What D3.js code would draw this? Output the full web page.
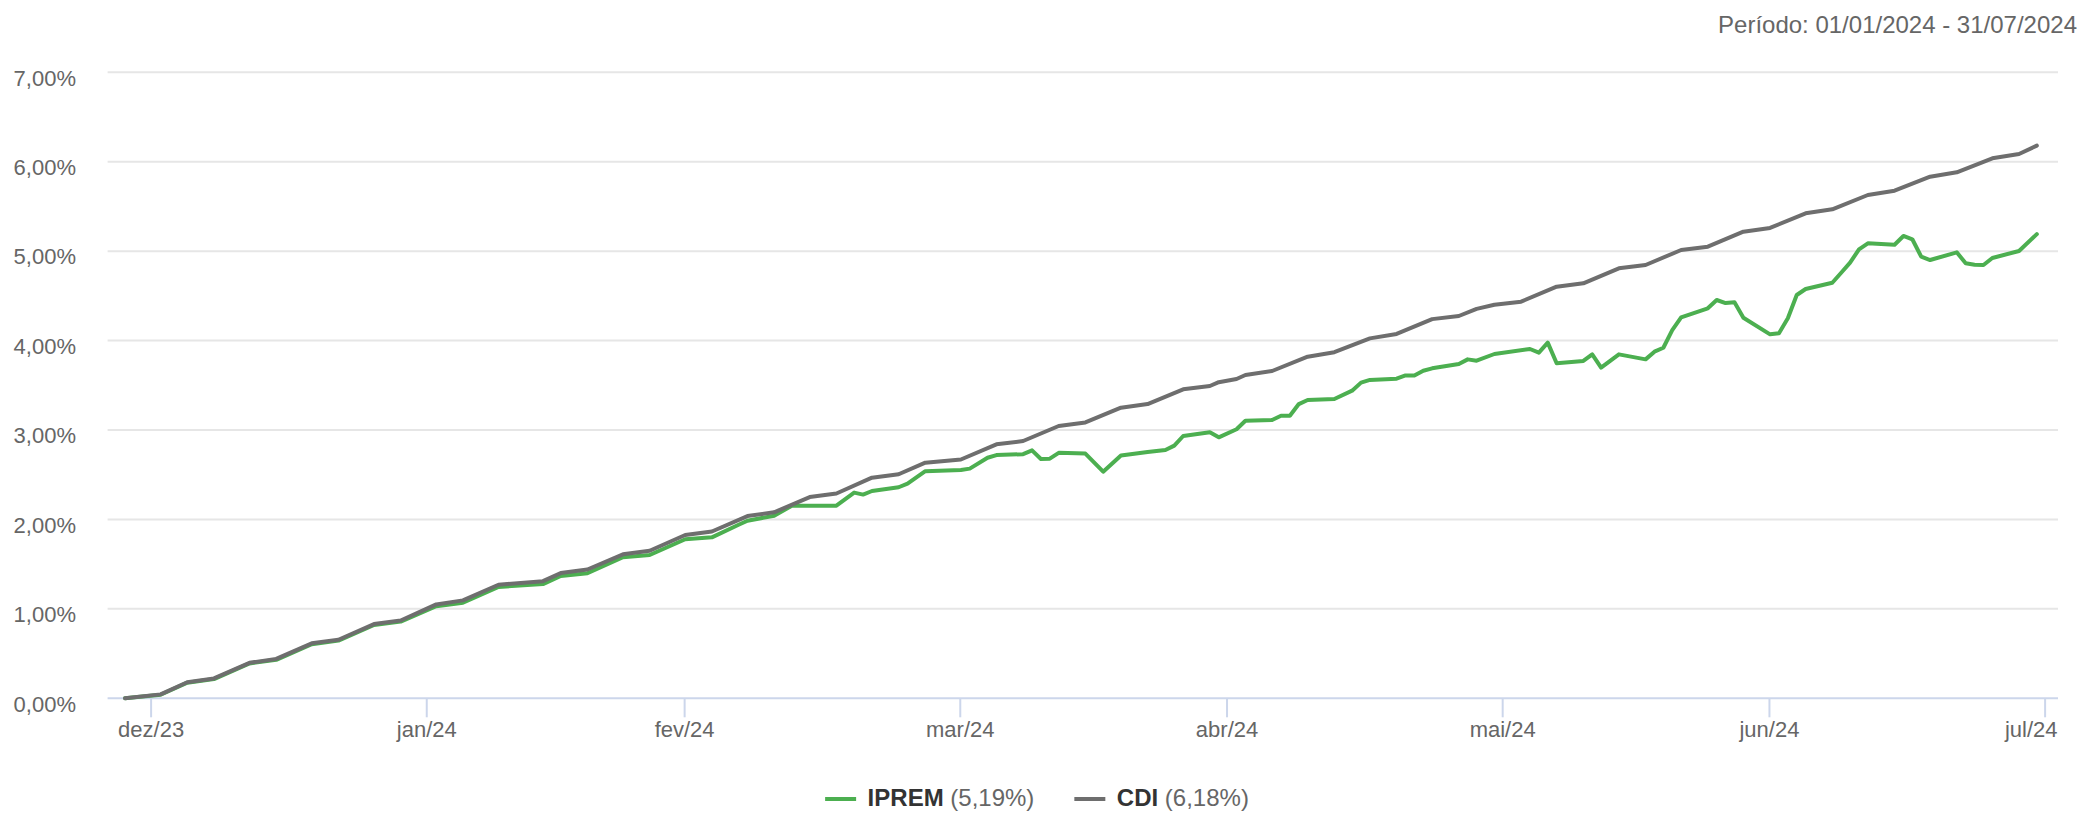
<!DOCTYPE html>
<html>
<head>
<meta charset="utf-8">
<script src="https://cdn.jsdelivr.net/npm/d3@7"></script>
<style>
  html, body { margin: 0; padding: 0; background: #ffffff; }
  svg { display: block; font-family: "Liberation Sans", Arial, Helvetica, sans-serif; }
</style>
</head>
<body>
<svg id="chart" width="2082" height="813"></svg>
<script>
// ---------------- DATA ----------------
const periodLabel = "Período: 01/01/2024 - 31/07/2024";
const seriesNames = ["IPREM", "CDI"];
const seriesTotals = ["(5,19%)", "(6,18%)"];

const xTickDates = ["2024-01-01","2024-02-01","2024-03-01","2024-04-01","2024-05-01","2024-06-01","2024-07-01","2024-08-01"];
const xTickLabels = ["dez/23","jan/24","fev/24","mar/24","abr/24","mai/24","jun/24","jul/24"];
const yTickValues = [0, 1, 2, 3, 4, 5, 6, 7];
const yTickLabels = ["0,00%","1,00%","2,00%","3,00%","4,00%","5,00%","6,00%","7,00%"];

const cdiDates = [
  "2023-12-29",
  "2024-01-02","2024-01-05","2024-01-08","2024-01-12","2024-01-15","2024-01-19","2024-01-22","2024-01-26","2024-01-29",
  "2024-02-02","2024-02-05","2024-02-09","2024-02-14","2024-02-16","2024-02-19","2024-02-23","2024-02-26",
  "2024-03-01","2024-03-04","2024-03-08","2024-03-11","2024-03-15","2024-03-18","2024-03-22","2024-03-25","2024-03-28",
  "2024-04-01","2024-04-05","2024-04-08","2024-04-12","2024-04-15","2024-04-19","2024-04-22","2024-04-26","2024-04-29","2024-04-30",
  "2024-05-02","2024-05-03","2024-05-06","2024-05-10","2024-05-13","2024-05-17","2024-05-20","2024-05-24","2024-05-27","2024-05-29","2024-05-31",
  "2024-06-03","2024-06-07","2024-06-10","2024-06-14","2024-06-17","2024-06-21","2024-06-24","2024-06-28",
  "2024-07-01","2024-07-05","2024-07-08","2024-07-12","2024-07-15","2024-07-19","2024-07-22","2024-07-26","2024-07-29","2024-07-31"
];
const cdiValues = [
  0,
  0.044,0.18,0.222,0.397,0.44,0.615,0.655,0.83,0.87,
  1.05,1.095,1.27,1.31,1.40,1.44,1.61,1.65,
  1.826,1.865,2.038,2.08,2.25,2.29,2.467,2.505,2.635,
  2.67,2.84,2.877,3.045,3.085,3.25,3.29,3.455,3.492,3.535,
  3.57,3.615,3.66,3.82,3.87,4.025,4.074,4.24,4.275,4.355,4.40,
  4.435,4.603,4.64,4.808,4.845,5.013,5.05,5.218,
  5.26,5.423,5.468,5.628,5.676,5.833,5.882,6.038,6.086,6.18
];

const ipremDates = [
  "2023-12-29",
  "2024-01-02","2024-01-05","2024-01-08","2024-01-12","2024-01-15","2024-01-19","2024-01-22","2024-01-26","2024-01-29",
  "2024-02-02","2024-02-05","2024-02-09","2024-02-14","2024-02-16","2024-02-19","2024-02-23","2024-02-26",
  "2024-03-01","2024-03-04","2024-03-07","2024-03-08","2024-03-11","2024-03-13","2024-03-18","2024-03-20","2024-03-21","2024-03-22","2024-03-25","2024-03-26","2024-03-28",
  "2024-04-01","2024-04-02","2024-04-04","2024-04-05","2024-04-08","2024-04-09","2024-04-10","2024-04-11","2024-04-12","2024-04-15","2024-04-17","2024-04-19","2024-04-22","2024-04-24","2024-04-25","2024-04-26","2024-04-29","2024-04-30",
  "2024-05-02","2024-05-03","2024-05-06","2024-05-07","2024-05-08","2024-05-09","2024-05-10","2024-05-13","2024-05-15","2024-05-16","2024-05-17","2024-05-20","2024-05-21","2024-05-22","2024-05-23","2024-05-24","2024-05-27","2024-05-28","2024-05-29","2024-05-31",
  "2024-06-04","2024-06-05","2024-06-06","2024-06-07","2024-06-10","2024-06-11","2024-06-12","2024-06-14","2024-06-17","2024-06-18","2024-06-19","2024-06-20","2024-06-21","2024-06-24","2024-06-25","2024-06-26","2024-06-27","2024-06-28",
  "2024-07-01","2024-07-02","2024-07-03","2024-07-04","2024-07-05","2024-07-08","2024-07-09","2024-07-10","2024-07-11","2024-07-12","2024-07-15","2024-07-16","2024-07-17","2024-07-18","2024-07-19","2024-07-22","2024-07-23","2024-07-24","2024-07-25","2024-07-26","2024-07-29","2024-07-31"
];
const ipremValues = [
  0,
  0.04,0.175,0.215,0.39,0.43,0.605,0.645,0.82,0.858,
  1.03,1.068,1.245,1.277,1.368,1.398,1.577,1.602,
  1.778,1.80,1.94,1.985,2.042,2.154,2.154,2.30,2.278,2.318,2.36,2.40,2.54,
  2.553,2.568,2.69,2.72,2.73,2.773,2.676,2.68,2.745,2.736,2.534,2.716,2.755,2.776,2.825,2.933,2.974,2.918,
  3.008,3.104,3.112,3.16,3.16,3.29,3.336,3.347,3.44,3.53,3.56,3.574,3.61,3.61,3.663,3.69,3.738,3.79,3.775,3.85,
  3.906,3.865,3.977,3.746,3.772,3.846,3.697,3.846,3.79,3.876,3.92,4.118,4.26,4.361,4.454,4.42,4.428,4.255,
  4.07,4.081,4.249,4.51,4.577,4.647,4.759,4.871,5.02,5.088,5.072,5.17,5.133,4.938,4.901,4.987,4.864,4.849,4.845,4.924,5.002,5.19
];

// ---------------- STYLE / LAYOUT ----------------
const colors = { IPREM: "#4caf50", CDI: "#6e6e6e" };
const plot = { left: 107.6, right: 2058, top: 72.3, bottom: 698.3 };

const parseDay = d3.utcParse("%Y-%m-%d");
// data points are stamped at local (UTC-3) midnight
const toPointDate = s => d3.utcHour.offset(parseDay(s), 3);

const svg = d3.select("#chart");

const x = d3.scaleUtc()
  .domain([parseDay(xTickDates[0]), parseDay(xTickDates[xTickDates.length - 1])])
  .range([150.6, 2044.6]);

const y = d3.scaleLinear()
  .domain([yTickValues[0], yTickValues[yTickValues.length - 1]])
  .range([plot.bottom, plot.top]);

// grid lines
svg.append("g").attr("class", "grid")
  .selectAll("line")
  .data(yTickValues.filter(v => v > 0))
  .join("line")
  .attr("x1", plot.left).attr("x2", plot.right)
  .attr("y1", d => y(d)).attr("y2", d => y(d))
  .attr("stroke", "#e6e6e6").attr("stroke-width", 2);

// x axis
const xAxis = d3.axisBottom(x)
  .tickValues(xTickDates.map(parseDay))
  .tickFormat((d, i) => xTickLabels[i])
  .tickSize(19)
  .tickPadding(4);

const gx = svg.append("g")
  .attr("transform", `translate(0,${plot.bottom})`)
  .call(xAxis);
gx.select(".domain").remove();
gx.selectAll(".tick line").attr("stroke", "#ccd6eb").attr("stroke-width", 2);
gx.selectAll(".tick text")
  .attr("fill", "#666666")
  .attr("font-size", "22px")
  .attr("font-family", "'Liberation Sans', Arial, sans-serif");
// last label is justified so it does not overflow the plot's right edge
gx.selectAll(".tick text").each(function(d) {
  const w = this.getComputedTextLength();
  const cx = x(d);
  if (cx + w / 2 > plot.right) {
    d3.select(this).attr("text-anchor", "end").attr("x", plot.right - 1 - cx);
  }
});

svg.append("line")
  .attr("x1", plot.left).attr("x2", plot.right)
  .attr("y1", plot.bottom).attr("y2", plot.bottom)
  .attr("stroke", "#ccd6eb").attr("stroke-width", 2);

// y axis labels
const yAxis = d3.axisLeft(y)
  .tickValues(yTickValues)
  .tickFormat((d, i) => yTickLabels[i])
  .tickSize(0)
  .tickPadding(plot.left - 76);

const gy = svg.append("g")
  .attr("transform", `translate(${plot.left},0)`)
  .call(yAxis);
gy.select(".domain").remove();
gy.selectAll(".tick text")
  .attr("fill", "#666666")
  .attr("font-size", "22px")
  .attr("dy", "0.58em")
  .attr("font-family", "'Liberation Sans', Arial, sans-serif");

// lines
const series = [
  { name: seriesNames[0], total: seriesTotals[0], color: colors.IPREM,
    points: ipremDates.map((d, i) => ({ date: toPointDate(d), value: ipremValues[i] })) },
  { name: seriesNames[1], total: seriesTotals[1], color: colors.CDI,
    points: cdiDates.map((d, i) => ({ date: toPointDate(d), value: cdiValues[i] })) }
];

const line = d3.line()
  .x(d => x(d.date))
  .y(d => y(d.value));

svg.append("g").attr("class", "series")
  .selectAll("path")
  .data(series)
  .join("path")
  .attr("d", s => line(s.points))
  .attr("fill", "none")
  .attr("stroke", s => s.color)
  .attr("stroke-width", 4)
  .attr("stroke-linejoin", "round")
  .attr("stroke-linecap", "round");

// period label
svg.append("text")
  .attr("x", 2077).attr("y", 33)
  .attr("text-anchor", "end")
  .attr("fill", "#666666")
  .attr("font-size", "24px")
  .text(periodLabel);

// legend
const legend = svg.append("g").attr("class", "legend");
const items = legend.selectAll("g").data(series).join("g");
items.append("line")
  .attr("x1", 0).attr("x2", 31)
  .attr("y1", 799).attr("y2", 799)
  .attr("stroke", d => d.color).attr("stroke-width", 4);
const txt = items.append("text")
  .attr("x", 42.5).attr("y", 806)
  .attr("font-size", "24px");
txt.append("tspan").attr("font-weight", "bold").attr("fill", "#333333").text(d => d.name);
txt.append("tspan").attr("fill", "#666666").text(d => " " + d.total);

const itemGap = 40;
let widths = [];
items.each(function() { widths.push(this.getBBox().width); });
const total = d3.sum(widths) + itemGap * (widths.length - 1);
let cx = 1037 - total / 2;
items.attr("transform", (d, i) => {
  const t = `translate(${cx},0)`;
  cx += widths[i] + itemGap;
  return t;
});
</script>
</body>
</html>
